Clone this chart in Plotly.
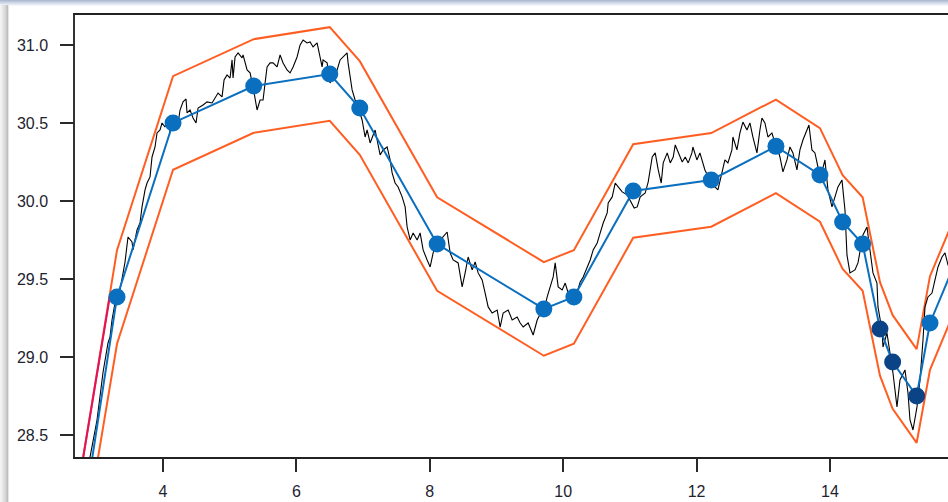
import plotly.graph_objects as go

# ---------------- data ----------------
# noisy price series (black)
price_x = [2.846, 3.010, 3.101, 3.175, 3.205, 3.235, 3.280, 3.355, 3.430, 3.475, 3.535, 3.550, 3.610, 3.655,
           3.685, 3.730, 3.760, 3.805, 3.835, 3.880, 3.910, 3.955, 3.985, 4.030, 4.060, 4.105, 4.150, 4.210,
           4.255, 4.300, 4.345, 4.360, 4.405, 4.450, 4.495, 4.525, 4.600, 4.660, 4.735, 4.780, 4.825, 4.885,
           4.915, 4.960, 5.005, 5.035, 5.050, 5.080, 5.125, 5.185, 5.200, 5.260, 5.305, 5.350, 5.380, 5.410,
           5.455, 5.500, 5.530, 5.560, 5.605, 5.650, 5.710, 5.755, 5.800, 5.860, 5.905, 5.950, 6.010, 6.055,
           6.100, 6.160, 6.205, 6.250, 6.310, 6.355, 6.385, 6.400, 6.460, 6.505, 6.550, 6.610, 6.655, 6.700,
           6.760, 6.775, 6.835, 6.880, 6.925, 6.985, 7.030, 7.060, 7.105, 7.180, 7.210, 7.255, 7.300, 7.360,
           7.405, 7.435, 7.480, 7.525, 7.585, 7.630, 7.660, 7.705, 7.750, 7.810, 7.855, 7.900, 7.960, 8.005,
           8.050, 8.080, 8.185, 8.260, 8.305, 8.350, 8.425, 8.485, 8.530, 8.575, 8.635, 8.680, 8.725, 8.785,
           8.830, 8.875, 8.935, 9.010, 9.055, 9.100, 9.175, 9.235, 9.310, 9.355, 9.400, 9.475, 9.550, 9.610,
           9.670, 9.730, 9.760, 9.805, 9.850, 9.880, 9.910, 9.925, 9.985, 10.030, 10.075, 10.135, 10.210,
           10.255, 10.300, 10.360, 10.405, 10.450, 10.510, 10.555, 10.600, 10.660, 10.675, 10.735, 10.780,
           10.825, 10.885, 10.960, 11.005, 11.065, 11.110, 11.155, 11.230, 11.275, 11.335, 11.380, 11.425,
           11.470, 11.500, 11.560, 11.605, 11.650, 11.680, 11.725, 11.785, 11.830, 11.875, 11.930, 11.945,
           12.005, 12.050, 12.125, 12.200, 12.275, 12.320, 12.380, 12.425, 12.470, 12.530, 12.545, 12.605,
           12.650, 12.695, 12.755, 12.800, 12.845, 12.905, 12.950, 12.980, 13.025, 13.070, 13.130, 13.175,
           13.220, 13.250, 13.295, 13.355, 13.400, 13.445, 13.505, 13.550, 13.595, 13.655, 13.685, 13.730,
           13.775, 13.820, 13.880, 13.925, 13.970, 14.030, 14.075, 14.120, 14.180, 14.225, 14.255, 14.300,
           14.375, 14.420, 14.495, 14.555, 14.600, 14.645, 14.705, 14.720, 14.780, 14.795, 14.855, 14.900,
           14.945, 15.005, 15.050, 15.125, 15.170, 15.200, 15.245, 15.305, 15.350, 15.395, 15.425, 15.470,
           15.530, 15.575, 15.620, 15.680, 15.725, 15.770, 15.830]
price_y = [28.224, 28.596, 28.904, 29.090, 29.128, 29.237, 29.346, 29.430, 29.609, 29.769, 29.737, 29.686,
           29.814, 29.859, 29.962, 30.071, 30.115, 30.154, 30.282, 30.346, 30.436, 30.455, 30.500, 30.474,
           30.519, 30.442, 30.538, 30.455, 30.583, 30.635, 30.654, 30.564, 30.583, 30.532, 30.500, 30.596,
           30.615, 30.635, 30.628, 30.660, 30.692, 30.667, 30.776, 30.808, 30.788, 30.904, 30.788, 30.923,
           30.949, 30.917, 30.936, 30.840, 30.821, 30.731, 30.667, 30.583, 30.647, 30.647, 30.756, 30.859,
           30.885, 30.885, 30.859, 30.936, 30.885, 30.840, 30.821, 30.859, 30.923, 31.000, 31.032, 31.013,
           31.019, 30.987, 31.013, 30.904, 30.859, 30.904, 30.885, 30.756, 30.795, 30.840, 30.904, 30.923,
           30.949, 30.885, 30.712, 30.647, 30.603, 30.519, 30.410, 30.455, 30.372, 30.455, 30.391, 30.295,
           30.327, 30.346, 30.263, 30.180, 30.115, 30.090, 30.026, 29.962, 29.833, 29.750, 29.795, 29.750,
           29.795, 29.686, 29.622, 29.577, 29.667, 29.705, 29.763, 29.801, 29.667, 29.622, 29.603, 29.449,
           29.539, 29.641, 29.558, 29.609, 29.539, 29.494, 29.410, 29.321, 29.282, 29.301, 29.192, 29.282,
           29.301, 29.237, 29.256, 29.218, 29.192, 29.218, 29.141, 29.237, 29.289, 29.333, 29.385, 29.442,
           29.513, 29.603, 29.513, 29.449, 29.430, 29.474, 29.410, 29.365, 29.417, 29.481, 29.513, 29.577,
           29.622, 29.686, 29.731, 29.795, 29.859, 29.923, 29.987, 30.026, 30.115, 30.090, 30.058, 30.039,
           30.006, 29.955, 29.962, 30.026, 30.051, 30.122, 30.282, 30.308, 30.199, 30.115, 30.244, 30.308,
           30.244, 30.282, 30.359, 30.308, 30.250, 30.282, 30.244, 30.308, 30.346, 30.263, 30.308, 30.199,
           30.135, 30.090, 30.071, 30.180, 30.263, 30.244, 30.327, 30.410, 30.327, 30.436, 30.506, 30.455,
           30.500, 30.410, 30.308, 30.455, 30.532, 30.500, 30.410, 30.436, 30.372, 30.327, 30.282, 30.186,
           30.263, 30.346, 30.308, 30.199, 30.327, 30.391, 30.455, 30.487, 30.327, 30.308, 30.218, 30.186,
           30.263, 30.071, 29.962, 30.026, 30.090, 30.135, 29.942, 29.654, 29.539, 29.558, 29.603, 29.782,
           29.833, 29.686, 29.539, 29.474, 29.321, 29.173, 29.064, 29.154, 29.026, 28.897, 28.680, 28.853,
           28.917, 28.769, 28.596, 28.532, 28.680, 28.853, 29.109, 29.321, 29.385, 29.410, 29.494, 29.577,
           29.641, 29.667, 29.590, 29.609]

# smoothed line with markers (blue)
avg_x = [2.75, 3.31, 4.15, 5.36, 6.50, 6.95, 8.11, 9.71, 10.16, 11.05, 12.22, 13.19, 13.85, 14.19,
         14.49, 14.75, 14.94, 15.30, 15.50, 16.00]
avg_y = [27.83, 29.385, 30.50, 30.737, 30.814, 30.596, 29.724, 29.308, 29.385, 30.064, 30.135, 30.35,
         30.167, 29.865, 29.724, 29.18, 28.968, 28.75, 29.218, 29.73]
avg_state = ["n", "n", "n", "n", "n", "n", "n", "n", "n", "n", "n", "n", "n", "n",
             "n", "d", "d", "d", "n", "n"]

# envelope bands (orange)
upper_y = [28.22, 29.685, 30.80, 31.037, 31.114, 30.896, 30.024, 29.608, 29.685, 30.364, 30.435, 30.65,
           30.467, 30.165, 30.024, 29.48, 29.268, 29.05, 29.518, 30.03]
lower_y = [27.65, 29.085, 30.20, 30.437, 30.514, 30.296, 29.424, 29.008, 29.085, 29.764, 29.835, 30.05,
           29.867, 29.565, 29.424, 28.88, 28.668, 28.45, 28.918, 29.43]

# highlighted band segment (crimson)
seg_x = [2.75, 3.205]
seg_y = [28.22, 29.395]

x_ticks = [4, 6, 8, 10, 12, 14]
y_ticks = [28.5, 29.0, 29.5, 30.0, 30.5, 31.0]
x_range = [2.68, 15.77]
y_range = [28.359, 31.192]

# ---------------- styles ----------------
ORANGE = "#FF5E23"
CRIMSON = "#E0115F"
BLUE = "#0A6FBF"
DARK_BLUE = "#0B4486"
TICK = "#2A2A2A"
colors = [DARK_BLUE if s == "d" else BLUE for s in avg_state]

fig = go.Figure()
fig.add_trace(go.Scatter(x=avg_x, y=upper_y, mode="lines", line=dict(color=ORANGE, width=2)))
fig.add_trace(go.Scatter(x=avg_x, y=lower_y, mode="lines", line=dict(color=ORANGE, width=2)))
fig.add_trace(go.Scatter(x=seg_x, y=seg_y, mode="lines", line=dict(color=CRIMSON, width=2)))
fig.add_trace(go.Scatter(x=price_x, y=price_y, mode="lines", line=dict(color="#000000", width=1.1)))
fig.add_trace(go.Scatter(x=avg_x, y=avg_y, mode="lines+markers",
                         line=dict(color=BLUE, width=2),
                         marker=dict(color=colors, size=17, line=dict(width=0))))
# empty trace that attaches the tick-only overlay axes
fig.add_trace(go.Scatter(x=[], y=[], xaxis="x2", yaxis="y2", hoverinfo="skip"))

# plot area in px: left 75, right 948, top 15, bottom 457
W, H = 948, 502
L, R, T, B = 75, 0, 15, 45
pw, ph = W - L - R, H - T - B


def px(xp):
    return (xp - L) / pw


def py(yp):
    return (H - B - yp) / ph


shapes = []
# window frame decorations: top bar gradient
top_cols = ["#AEBBD1", "#BCC8DB", "#CAD4E4", "#D8E0ED", "#E6EBF4", "#F2F5FA"]
for i, c in enumerate(top_cols):
    shapes.append(dict(type="rect", xref="paper", yref="paper", x0=px(0), x1=px(W + 5),
                       y0=py(i + 1), y1=py(i), fillcolor=c, line=dict(width=0), layer="above"))
# left bar gradient
left_cols = ["#F4F4F4", "#EEEEEE", "#E8E8E8", "#E2E2E2", "#DCDCDC", "#D4D4D4", "#CACACA", "#BDBDBD",
             "#E6E6E6"]
for i, c in enumerate(left_cols):
    shapes.append(dict(type="rect", xref="paper", yref="paper", x0=px(i), x1=px(i + 1),
                       y0=py(H + 5), y1=py(5), fillcolor=c, line=dict(width=0), layer="above"))

fig.update_layout(
    width=W, height=H,
    margin=dict(l=L, r=R, t=T, b=B, pad=0),
    paper_bgcolor="#FFFFFF", plot_bgcolor="#FFFFFF",
    showlegend=False,
    shapes=shapes,
    font=dict(family="Liberation Sans, Arial, sans-serif", size=16, color="#1E2430"),
    # main axes carry the labels
    xaxis=dict(range=x_range, tickvals=x_ticks, ticks="outside", ticklen=14, tickwidth=1,
               tickcolor="rgba(0,0,0,0)", showgrid=False, zeroline=False, showline=True,
               linecolor="#222222", linewidth=1.5, mirror=True, tickfont=dict(size=16),
               ticklabelstandoff=5),
    yaxis=dict(range=y_range, tickvals=y_ticks, tickformat=".1f", ticks="outside", ticklen=14,
               tickwidth=1, tickcolor="rgba(0,0,0,0)", showgrid=False, zeroline=False,
               showline=True, linecolor="#333333", linewidth=1.5, tickfont=dict(size=16),
               ticklabelstandoff=8),
    # overlay axes draw the visible tick marks
    xaxis2=dict(overlaying="x", anchor="y2", side="bottom", range=x_range, tickvals=x_ticks,
                ticks="outside", ticklen=14, tickwidth=1.5, tickcolor=TICK, showticklabels=False,
                showgrid=False, zeroline=False, showline=False),
    yaxis2=dict(overlaying="y", anchor="x2", side="left", range=y_range, tickvals=y_ticks,
                ticks="outside", ticklen=14, tickwidth=1.5, tickcolor=TICK, showticklabels=False,
                showgrid=False, zeroline=False, showline=False),
)

fig.write_html("out.html", config=dict(displayModeBar=False),
               post_script="document.body.style.margin='0px';document.body.style.overflow='hidden';")
